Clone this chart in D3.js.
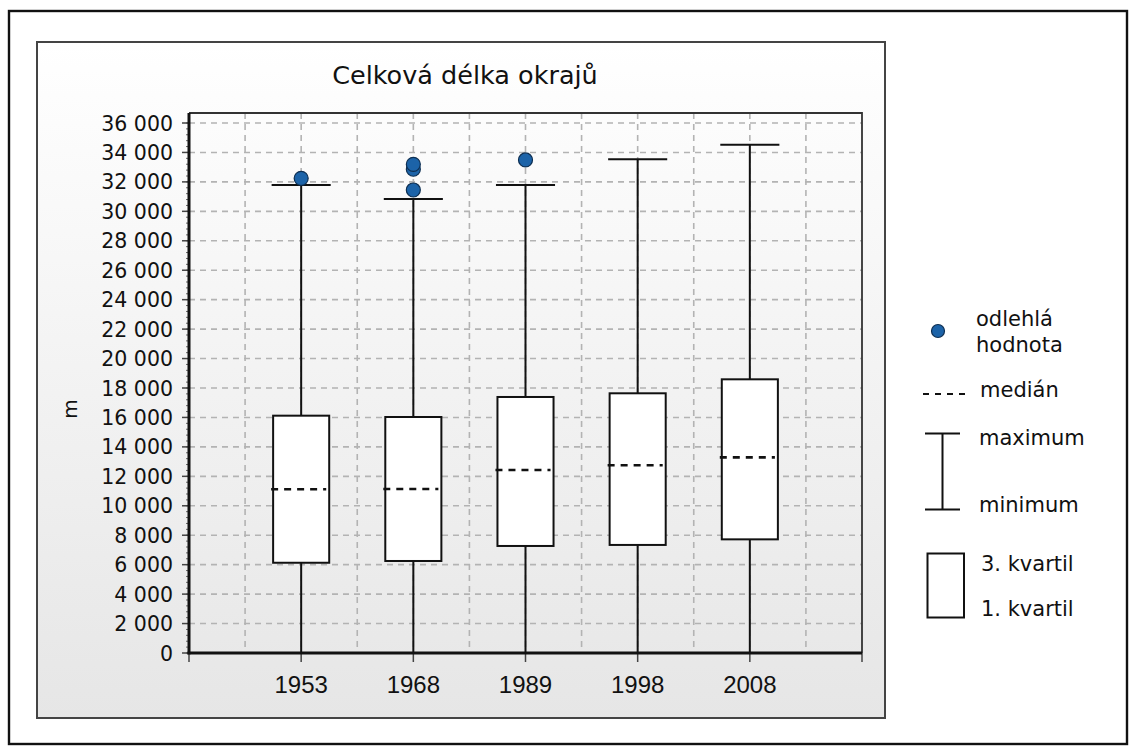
<!DOCTYPE html>
<html>
<head>
<meta charset="utf-8">
<script src="https://cdn.jsdelivr.net/npm/d3@7"></script>
<style>
  html, body { margin: 0; padding: 0; background: #ffffff; }
  svg { display: block; }
</style>
</head>
<body>
<svg id="chart" width="1135" height="753"></svg>
<script>
// Box plot data: total edge length (m) per survey year
const years = ["1953", "1968", "1989", "1998", "2008"];
const minimum = [0, 0, 0, 0, 0];
const quartile1 = [6130, 6250, 7270, 7340, 7720];
const median = [11120, 11140, 12430, 12750, 13290];
const quartile3 = [16120, 16030, 17390, 17640, 18590];
const maximum = [31790, 30840, 31790, 33530, 34530];
const outliers = [[32240], [31450, 32860, 33190], [33490], [], []];
const yTickValues = d3.range(0, 36001, 2000);

const titleText = "Celková délka okrajů";
const yAxisTitle = "m";
const legendLabels = {
  outlier: ["odlehlá", "hodnota"],
  median: "medián",
  max: "maximum",
  min: "minimum",
  q3: "3. kvartil",
  q1: "1. kvartil"
};

const svg = d3.select("#chart");
const csLocale = d3.formatLocale({ decimal: ",", thousands: "\u00a0", grouping: [3], currency: ["", " Kč"] });
const fmt = csLocale.format(",d");

// Layout
const panel = { x: 37, y: 42, w: 848, h: 676 };
const plot = { left: 189, right: 862, top: 113, bottom: 653 };

const x = d3.scaleLinear().domain([0, years.length + 1]).range([plot.left, plot.right]);
const y = d3.scaleLinear().domain([0, 36000]).range([plot.bottom, 123]);

// Outer frame
svg.append("rect")
  .attr("x", 9).attr("y", 11).attr("width", 1118).attr("height", 733)
  .attr("fill", "#ffffff").attr("stroke", "#111").attr("stroke-width", 2.4);

// Panel with vertical gradient
const defs = svg.append("defs");
const grad = defs.append("linearGradient").attr("id", "panelGrad")
  .attr("x1", 0).attr("y1", 0).attr("x2", 0).attr("y2", 1);
grad.append("stop").attr("offset", "0%").attr("stop-color", "#ffffff");
grad.append("stop").attr("offset", "100%").attr("stop-color", "#e6e6e6");

svg.append("rect")
  .attr("x", panel.x).attr("y", panel.y).attr("width", panel.w).attr("height", panel.h)
  .attr("fill", "url(#panelGrad)").attr("stroke", "#444").attr("stroke-width", 2);

// Title
svg.append("text")
  .attr("x", 465).attr("y", 84)
  .attr("text-anchor", "middle")
  .attr("font-family", "DejaVu Sans")
  .attr("font-size", 25.5)
  .attr("fill", "#111")
  .text(titleText);

// Grid lines
const grid = svg.append("g").attr("stroke", "#b3b3b3").attr("stroke-width", 1.6)
  .attr("stroke-dasharray", "6,5").attr("fill", "none");
grid.selectAll("line.h").data(yTickValues.filter(v => v > 0)).join("line")
  .attr("x1", plot.left).attr("x2", plot.right)
  .attr("y1", d => y(d)).attr("y2", d => y(d));
grid.selectAll("line.v").data(d3.range(0.5, years.length + 1, 0.5)).join("line")
  .attr("x1", d => x(d)).attr("x2", d => x(d))
  .attr("y1", plot.top).attr("y2", plot.bottom);

// Plot frame (top and right)
svg.append("path")
  .attr("d", `M${plot.left},${plot.top}H${plot.right}V${plot.bottom}`)
  .attr("fill", "none").attr("stroke", "#333").attr("stroke-width", 1.8);

// Boxes
const halfBox = (x(1) - x(0)) / 4;
const boxes = svg.append("g");
years.forEach((yr, i) => {
  const cx = x(i + 1);
  const g = boxes.append("g");
  // whiskers
  g.append("line").attr("x1", cx).attr("x2", cx)
    .attr("y1", y(maximum[i])).attr("y2", y(quartile3[i]))
    .attr("stroke", "#111").attr("stroke-width", 2);
  g.append("line").attr("x1", cx).attr("x2", cx)
    .attr("y1", y(quartile1[i])).attr("y2", y(minimum[i]))
    .attr("stroke", "#111").attr("stroke-width", 2);
  // cap
  g.append("line").attr("x1", cx - halfBox - 1.5).attr("x2", cx + halfBox + 1.5)
    .attr("y1", y(maximum[i])).attr("y2", y(maximum[i]))
    .attr("stroke", "#111").attr("stroke-width", 2);
  // box
  g.append("rect")
    .attr("x", cx - halfBox).attr("width", halfBox * 2)
    .attr("y", y(quartile3[i])).attr("height", y(quartile1[i]) - y(quartile3[i]))
    .attr("fill", "#ffffff").attr("stroke", "#111").attr("stroke-width", 2);
  // median
  g.append("line").attr("x1", cx - halfBox - 2).attr("x2", cx + halfBox - 3)
    .attr("y1", y(median[i])).attr("y2", y(median[i]))
    .attr("stroke", "#111").attr("stroke-width", 2.6).attr("stroke-dasharray", "7,6");
  // outliers
  g.selectAll("circle").data(outliers[i]).join("circle")
    .attr("cx", cx).attr("cy", d => y(d)).attr("r", 7)
    .attr("fill", "#1c63a8").attr("stroke", "#0e2f52").attr("stroke-width", 1.2);
});

// Y axis
const yAxisG = svg.append("g");
yAxisG.selectAll("line.minor").data(d3.range(0, 36001, 400)).join("line")
  .attr("x1", plot.left - 3).attr("x2", plot.left)
  .attr("y1", d => y(d)).attr("y2", d => y(d))
  .attr("stroke", "#666").attr("stroke-width", 1);
yAxisG.selectAll("line.major").data(yTickValues).join("line")
  .attr("x1", plot.left - 7).attr("x2", plot.left)
  .attr("y1", d => y(d)).attr("y2", d => y(d))
  .attr("stroke", "#444").attr("stroke-width", 1.5);
yAxisG.selectAll("text").data(yTickValues).join("text")
  .attr("x", 173).attr("y", d => y(d)).attr("dy", "0.37em")
  .attr("text-anchor", "end")
  .attr("font-family", "DejaVu Sans").attr("font-size", 20.5)
  .attr("fill", "#111")
  .text(d => fmt(d));
svg.append("line")
  .attr("x1", plot.left).attr("x2", plot.left)
  .attr("y1", plot.top).attr("y2", plot.bottom + 1.5)
  .attr("stroke", "#111").attr("stroke-width", 3);

// X axis
const xAxisG = svg.append("g");
xAxisG.selectAll("line").data(d3.range(0, years.length + 2)).join("line")
  .attr("x1", d => x(d)).attr("x2", d => x(d))
  .attr("y1", plot.bottom).attr("y2", plot.bottom + 9)
  .attr("stroke", "#444").attr("stroke-width", 1.5);
xAxisG.selectAll("text").data(years).join("text")
  .attr("x", (d, i) => x(i + 1)).attr("y", 693)
  .attr("text-anchor", "middle")
  .attr("font-family", "Liberation Sans").attr("font-size", 24)
  .attr("fill", "#111")
  .text(d => d);
svg.append("line")
  .attr("x1", plot.left - 1.5).attr("x2", plot.right)
  .attr("y1", plot.bottom).attr("y2", plot.bottom)
  .attr("stroke", "#111").attr("stroke-width", 3);

// Y axis title
svg.append("text")
  .attr("transform", "translate(77,409) rotate(-90)")
  .attr("text-anchor", "middle")
  .attr("font-family", "DejaVu Sans").attr("font-size", 20)
  .attr("fill", "#111")
  .text(yAxisTitle);

// Legend
const lg = svg.append("g").attr("font-family", "DejaVu Sans").attr("font-size", 21).attr("fill", "#111");
lg.append("circle").attr("cx", 938).attr("cy", 331).attr("r", 6.5)
  .attr("fill", "#1c63a8").attr("stroke", "#0e2f52").attr("stroke-width", 1.2);
lg.append("text").attr("x", 976).attr("y", 326).text(legendLabels.outlier[0]);
lg.append("text").attr("x", 976).attr("y", 352).text(legendLabels.outlier[1]);

lg.append("line").attr("x1", 923).attr("x2", 966).attr("y1", 394).attr("y2", 394)
  .attr("stroke", "#111").attr("stroke-width", 2).attr("stroke-dasharray", "6,6");
lg.append("text").attr("x", 980).attr("y", 397).text(legendLabels.median);

lg.append("path").attr("d", "M925,433.5H960M942.5,433.5V509.5M925,509.5H960")
  .attr("fill", "none").attr("stroke", "#111").attr("stroke-width", 2);
lg.append("text").attr("x", 979).attr("y", 445).text(legendLabels.max);
lg.append("text").attr("x", 979).attr("y", 512).text(legendLabels.min);

lg.append("rect").attr("x", 927.5).attr("y", 553.5).attr("width", 36.5).attr("height", 64)
  .attr("fill", "#ffffff").attr("stroke", "#111").attr("stroke-width", 2);
lg.append("text").attr("x", 981).attr("y", 571).text(legendLabels.q3);
lg.append("text").attr("x", 981).attr("y", 616).text(legendLabels.q1);
</script>
</body>
</html>
